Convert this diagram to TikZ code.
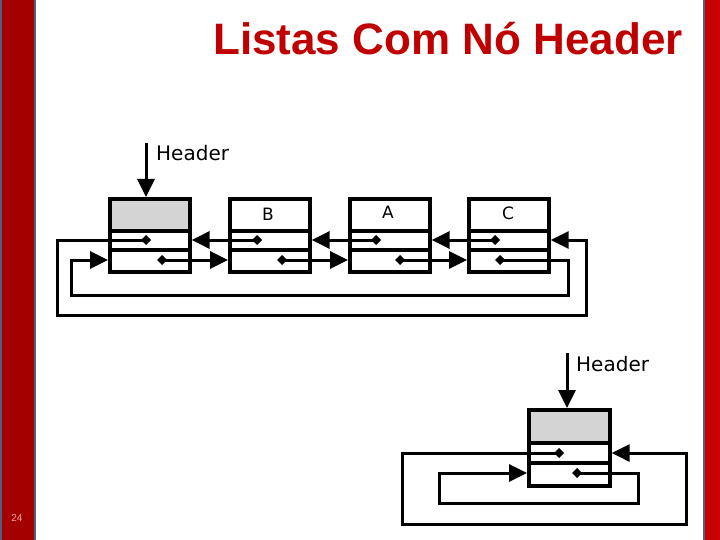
\documentclass[tikz,border=0pt]{standalone}
\usepackage{fontspec}
\setmainfont{Liberation Sans}
\newfontfamily\dejavu{DejaVu Sans}
\usetikzlibrary{arrows.meta}
\definecolor{titlered}{RGB}{192,0,0}
\definecolor{barred}{RGB}{165,0,0}
\definecolor{barred2}{RGB}{200,0,0}
\definecolor{barblue}{RGB}{80,96,128}
\definecolor{fieldgray}{RGB}{212,212,212}
\definecolor{pagepink}{RGB}{235,160,160}
\newcommand\ptdot[1]{\fill (#1) ++(-5,0) -- ++(5,-5) -- ++(5,5) -- ++(-5,5) -- cycle;}
\begin{document}
\begin{tikzpicture}[x=1pt,y=-1pt,
  listbox/.style={draw, line width=3.6, minimum width=80, minimum height=73, anchor=north west, inner sep=0},
  divider/.style={line width=3.2},
  arr/.style={line width=3, -{Triangle[length=18pt,width=17pt]}},
  hdr/.style={font=\dejavu\fontsize{20}{24}\selectfont, anchor=west, inner sep=0},
  lbl/.style={font=\dejavu\fontsize{17}{20}\selectfont, inner sep=0}]
\path[use as bounding box] (0,0) rectangle (720,540);
% side bars
\fill[barred] (0,0) rectangle (36,540);
\draw[barblue, line width=2] (1,0) -- (1,540) (35,0) -- (35,540);
\fill[barred2] (704,0) rectangle (720,540);
\draw[barblue, line width=2] (704,0) -- (704,540);
\node[text=pagepink, font=\fontsize{10}{12}\selectfont] (pg) at (17,518) {24};
% title
\node[anchor=base west, text=titlered, font=\bfseries\fontsize{44}{52}\selectfont, inner sep=0] (title) at (213,55) {Listas Com Nó Header};

% ---------- first diagram ----------
\fill[fieldgray] (108,197) rectangle (188,231);
\node[listbox] (h) at (108,197) {};
\node[listbox] (b) at (228,197) {};
\node[listbox] (a) at (348,197) {};
\node[listbox] (c) at (467,197) {};
\foreach \x in {108,228,348,467}{
  \draw[divider] (\x,231) -- (\x+80,231);
  \draw[divider] (\x,250) -- (\x+80,250);
}
\node[lbl] (lb) at (268,214) {B};
\node[lbl] (la) at (388,212) {A};
\node[lbl] (lc) at (508,213) {C};

\coordinate (htop) at (146,143);
\node[hdr] (hdr1) at (156,153) {Header};
\draw[arr] (htop) -- (h.north -| htop);

\coordinate (hp) at (146,240);
\coordinate (bp) at (257,240);
\coordinate (ap) at (376,240);
\coordinate (cp) at (495,240);
\coordinate (hn) at (162,260);
\coordinate (bn) at (282,260);
\coordinate (an) at (400,260);
\coordinate (cn) at (500,260);

\draw[arr] (bp) -- (h.east |- bp);
\draw[arr] (ap) -- (b.east |- ap);
\draw[arr] (cp) -- (a.east |- cp);
\draw[arr] (hn) -- (b.west |- hn);
\draw[arr] (bn) -- (a.west |- bn);
\draw[arr] (an) -- (c.west |- an);
\draw[arr] (hp) -- (57,240) -- (57,315) -- (586,315) -- (586,240) -- (c.east |- hp);
\draw[arr] (cn) -- (568,260) -- (568,295) -- (71,295) -- (71,260) -- (h.west |- cn);
\foreach \p in {hp,bp,ap,cp,hn,bn,an,cn}{\ptdot{\p}}

% ---------- second diagram ----------
\fill[fieldgray] (527,408) rectangle (608,443);
\node[listbox, minimum width=81, minimum height=76] (h2) at (527,408) {};
\draw[divider] (527,443) -- (608,443);
\draw[divider] (527,463) -- (608,463);
\coordinate (htop2) at (567,353);
\node[hdr] (hdr2) at (576,364) {Header};
\draw[arr] (htop2) -- (h2.north -| htop2);
\coordinate (h2p) at (559,453);
\coordinate (h2n) at (577,473);
\draw[arr] (h2p) -- (402,453) -- (402,524) -- (686,524) -- (686,453) -- (h2.east |- h2p);
\draw[arr] (h2n) -- (638,473) -- (638,503) -- (439,503) -- (439,473) -- (h2.west |- h2n);
\ptdot{h2p}
\ptdot{h2n}
\end{tikzpicture}
\end{document}
